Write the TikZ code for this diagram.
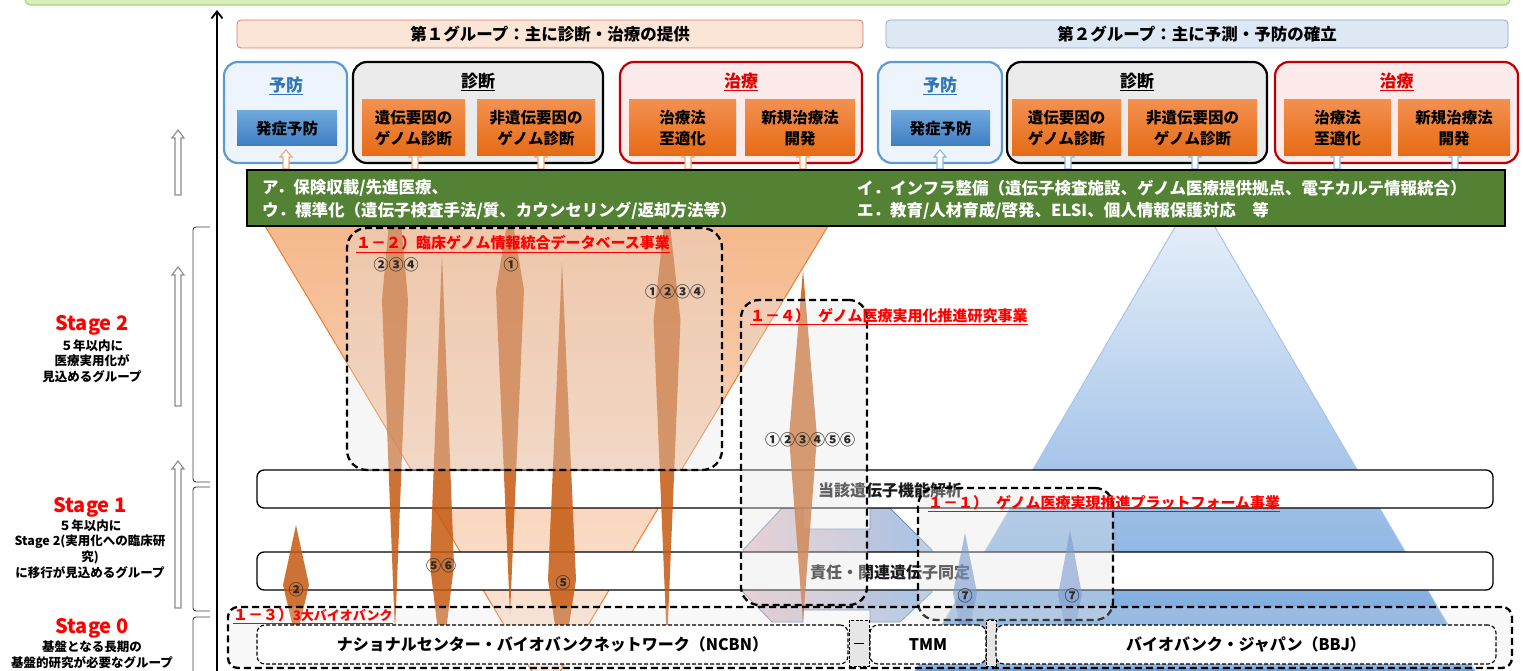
\documentclass[tikz,border=0pt]{standalone}
\usepackage{fontspec}
\setmainfont{Noto Sans CJK JP}
\usetikzlibrary{arrows.meta}
\definecolor{lgreen}{HTML}{D7F0B4}
\definecolor{lgreenb}{HTML}{A9D18E}
\definecolor{dgreen}{HTML}{548235}
\definecolor{g1fill}{HTML}{FBE5D6}
\definecolor{g1draw}{HTML}{D9776E}
\definecolor{g2fill}{HTML}{DEE8F4}
\definecolor{g2draw}{HTML}{8FA9C6}
\definecolor{ybdraw}{HTML}{5B9BD5}
\definecolor{ybfill}{HTML}{EEF4FB}
\definecolor{sdfill}{HTML}{EBEBEB}
\definecolor{crdraw}{HTML}{C00000}
\definecolor{crfill}{HTML}{FDEAEA}
\definecolor{orT}{HTML}{F3904F}
\definecolor{orB}{HTML}{E66A14}
\definecolor{blT}{HTML}{6FA8DC}
\definecolor{blB}{HTML}{3F7DC3}
\definecolor{ttlblue}{HTML}{2E75B6}
\definecolor{ttlred}{HTML}{E00000}
\definecolor{arrOr}{HTML}{F4A46E}
\definecolor{arrBl}{HTML}{8DB4E2}
\definecolor{funT}{HTML}{F5B88C}
\definecolor{funB}{HTML}{FDEBDF}
\definecolor{funD}{HTML}{ED7D31}
\definecolor{triT}{HTML}{EDF3FB}
\definecolor{triB}{HTML}{6A9FDA}
\definecolor{triD}{HTML}{A9C4E6}
\definecolor{spOr}{HTML}{C55A11}
\definecolor{spBl}{HTML}{4472C4}
\definecolor{hexP}{HTML}{E8C6CC}
\definecolor{hexB}{HTML}{A7C5E6}
\definecolor{hexD}{HTML}{6F93B8}
\definecolor{lblred}{HTML}{FF0000}
\definecolor{stred}{HTML}{FF0000}
\definecolor{bartxt}{HTML}{1A1A1A}
\definecolor{numtxt}{HTML}{2A2A2A}
\definecolor{garr}{HTML}{8C8C8C}
\definecolor{brkc}{HTML}{404040}
\definecolor{ovl}{HTML}{E4E4E4}
\definecolor{connfill}{HTML}{E6E6E6}
\newcommand\fsz[2]{\fontsize{#1}{#2}\selectfont}
\newcommand\spindle[6]{\fill[#1] (#2,#3) -- (#2+#5,#4) -- (#2,#6) -- (#2-#5,#4) -- cycle;}
\newcommand\hollowup[6]{\filldraw[#1] (#2-#4,#6) -- (#2-#4,#3+#5) -- (#2-2*#4,#3+#5) -- (#2,#3) -- (#2+2*#4,#3+#5) -- (#2+#4,#3+#5) -- (#2+#4,#6) -- cycle;}
\begin{document}
\begin{tikzpicture}[x=1pt,y=-1pt,
  every node/.style={inner sep=0pt,outer sep=0pt},
  hdr/.style={draw,rounded corners=4,line width=0.8,minimum height=28,font=\fsz{16.5}{20}\bfseries},
  obox/.style={rounded corners=14,line width=2.2,minimum height=101},
  ttl/.style={font=\fsz{17}{20}\bfseries},
  orbox/.style={top color=orT,bottom color=orB,minimum height=56,align=center,font=\fsz{15.5}{21}\bfseries},
  blbox/.style={top color=blT,bottom color=blB,minimum height=35,font=\fsz{15.5}{20}\bfseries},
  gtxt/.style={anchor=west,text=white,font=\fsz{16.5}{20}\bfseries},
  bar/.style={draw,fill=white,rounded corners=7,line width=1.3,minimum width=1236,minimum height=38},
  bartext/.style={text=bartxt,font=\fsz{16}{18}\bfseries},
  dbox/.style={draw,line width=2.3,dash pattern=on 7pt off 4pt,fill=ovl,fill opacity=0.35,rounded corners=20},
  ibox/.style={draw,fill=white,line width=1.1,dash pattern=on 4pt off 2pt,rounded corners=8,minimum height=39,font=\fsz{16}{18}\bfseries},
  conn/.style={draw,fill=connfill,line width=0.8,dash pattern=on 3pt off 1.5pt,minimum height=46},
  rlbl/.style={anchor=west,text=lblred,font=\fsz{15}{18}\bfseries},
  num/.style={text=numtxt,font=\fsz{15}{17}\bfseries},
  spo/.style={fill=spOr,fill opacity=0.85},
  spb/.style={fill=spBl,fill opacity=0.6},
  sarrO/.style={draw=arrOr,fill=white,line width=1.1},
  sarrB/.style={draw=arrBl,fill=white,line width=1.1},
  garrow/.style={draw=garr,fill=white,line width=1.1},
  brk/.style={draw=brkc,line width=0.9,rounded corners=3},
  stg/.style={text=stred,font=\fsz{20}{22}\bfseries},
  stxt/.style={align=center,font=\fsz{12.5}{15.7}\bfseries}
]
\useasboundingbox (0,0) rectangle (1523,671);
% top band
\node[draw=lgreenb,fill=lgreen,line width=1.2,rounded corners=6,minimum width=1485,minimum height=34] (topband) at (767.5,-12) {};
% group headers
\node[hdr,draw=g1draw,fill=g1fill,minimum width=626] (g1) at (550,34) {第１グループ：主に診断・治療の提供};
\node[hdr,draw=g2draw,fill=g2fill,minimum width=622] (g2) at (1197,34) {第２グループ：主に予測・予防の確立};
% outer boxes
\node[obox,draw=ybdraw,fill=ybfill,minimum width=123] (yb1) at (285.5,112.5) {};
\node[obox,draw=black,fill=sdfill,minimum width=250] (sd1) at (478,112.5) {};
\node[obox,draw=crdraw,fill=crfill,minimum width=242] (cr1) at (741,112.5) {};
\node[obox,draw=ybdraw,fill=ybfill,minimum width=124] (yb2) at (940,112.5) {};
\node[obox,draw=black,fill=sdfill,minimum width=260] (sd2) at (1137,112.5) {};
\node[obox,draw=crdraw,fill=crfill,minimum width=243] (cr2) at (1396.5,112.5) {};
% small arrows
\hollowup{sarrO}{286}{150}{3}{7}{169}
\hollowup{sarrO}{415}{150}{3}{7}{169}
\hollowup{sarrO}{541}{150}{3}{7}{169}
\hollowup{sarrO}{688}{150}{3}{7}{169}
\hollowup{sarrO}{803}{150}{3}{7}{169}
\hollowup{sarrB}{940}{150}{3}{7}{169}
\hollowup{sarrB}{1068}{150}{3}{7}{169}
\hollowup{sarrB}{1195}{150}{3}{7}{169}
\hollowup{sarrB}{1337}{150}{3}{7}{169}
\hollowup{sarrB}{1455}{150}{3}{7}{169}
% inner boxes
\node[blbox,minimum width=100] (yb1a) at (287,128.5) {発症予防};
\node[orbox,minimum width=103] (sd1a) at (413.5,128) {遺伝要因の\\ゲノム診断};
\node[orbox,minimum width=118] (sd1b) at (536,128) {非遺伝要因の\\ゲノム診断};
\node[orbox,minimum width=107] (cr1a) at (682.5,128) {治療法\\至適化};
\node[orbox,minimum width=110] (cr1b) at (800,128) {新規治療法\\開発};
\node[blbox,minimum width=99] (yb2a) at (940.5,128.5) {発症予防};
\node[orbox,minimum width=109] (sd2a) at (1066.5,128) {遺伝要因の\\ゲノム診断};
\node[orbox,minimum width=129] (sd2b) at (1192.5,128) {非遺伝要因の\\ゲノム診断};
\node[orbox,minimum width=107] (cr2a) at (1337.5,128) {治療法\\至適化};
\node[orbox,minimum width=112] (cr2b) at (1454,128) {新規治療法\\開発};
% titles
\node[ttl,text=ttlblue] (yb1t) at (286,86) {\underline{予防}};
\node[ttl] (sd1t) at (478,82) {\underline{診断}};
\node[ttl,text=ttlred] (cr1t) at (741,82) {\underline{治療}};
\node[ttl,text=ttlblue] (yb2t) at (940,86) {\underline{予防}};
\node[ttl] (sd2t) at (1137,82) {\underline{診断}};
\node[ttl,text=ttlred] (cr2t) at (1396.5,82) {\underline{治療}};
% body
\begin{scope}
\clip (0,226) rectangle (1523,671);
\path[draw=funD,line width=1,top color=funT,bottom color=funB] (265,226) -- (828,226) -- (546,695) -- cycle;
\path[draw=triD,line width=1,top color=triT,bottom color=triB] (1195,193) -- (1492,700) -- (898,700) -- cycle;
\path[draw=hexD,line width=0.8,left color=hexP,right color=hexB] (782,508) -- (803,508) -- (803,529) -- (870,529) -- (870,508) -- (890,508) -- (932,550) -- (932,592) -- (900,622) -- (870,622) -- (870,610) -- (803,610) -- (803,622) -- (772,622) -- (743,592) -- (743,550) -- cycle;
% bars
\node[bar] (bar1) at (875,489) {};
\node[bar] (bar2) at (875,571) {};
\node[bartext] (bar1t) at (890,490) {当該遺伝子機能解析};
\node[bartext] (bar2t) at (890,572) {責任・関連遺伝子同定};
% spindles
\spindle{spo}{395}{156}{300}{13}{634}
\spindle{spo}{442}{253}{565}{12}{665}
\spindle{spo}{510}{206}{290}{14}{615}
\spindle{spo}{562}{262}{580}{14}{670}
\spindle{spo}{667}{198}{320}{13.5}{645}
\spindle{spo}{803}{270}{437}{14}{622}
\spindle{spo}{296}{525}{585}{13}{640}
\spindle{spb}{965}{533}{593}{12}{650}
\spindle{spb}{1070}{530}{595}{12}{650}
% dashed overlays
\node[dbox,minimum width=375,minimum height=242] (d12) at (534.5,349) {};
\node[dbox,rounded corners=18,minimum width=126,minimum height=305] (d14) at (804,452.5) {};
\node[dbox,rounded corners=18,minimum width=195,minimum height=132] (d11) at (1015.5,554) {};
\node[dbox,rounded corners=10,fill opacity=0.25,minimum width=1284,minimum height=61] (d13) at (870,637.5) {};
% biobanks
\node[conn,minimum width=20] (cn1) at (859,643) {};
\node[conn,minimum width=10] (cn2) at (991,643) {};
\draw[line width=0.8] ([xshift=-5pt]cn1.center) -- ([xshift=5pt]cn1.center);
\node[ibox,minimum width=591] (ncbn) at (552.5,644.5) {ナショナルセンター・バイオバンクネットワーク（NCBN）};
\node[ibox,minimum width=116] (tmm) at (928,644.5) {TMM};
\node[ibox,minimum width=500] (bbj) at (1246,644.5) {バイオバンク・ジャパン（BBJ）};
\end{scope}
% green box
\node[draw=black,fill=dgreen,line width=1.5,minimum width=1258,minimum height=56] (gbox) at (876,198) {};
\node[gtxt] (ga) at (262,188) {ア．保険収載/先進医療、};
\node[gtxt] (gu) at (262,211) {ウ．標準化（遺伝子検査手法/質、カウンセリング/返却方法等）};
\node[gtxt] (gi) at (857,188) {イ．インフラ整備（遺伝子検査施設、ゲノム医療提供拠点、電子カルテ情報統合）};
\node[gtxt] (ge) at (857,211) {エ．教育/人材育成/啓発、ELSI、個人情報保護対応　等};
% red labels
\node[rlbl] (l12) at (356,244) {\underline{１－２）臨床ゲノム情報統合データベース事業}};
\node[rlbl] (l14) at (750,317) {\underline{１－４）\hspace{8pt}ゲノム医療実用化推進研究事業}};
\node[rlbl] (l11) at (928,504) {\underline{１－１）\hspace{8pt}ゲノム医療実現推進プラットフォーム事業}};
\node[rlbl] (l13) at (233,616) {\underline{１－３）{\fsz{13}{16}3大バイオバンク}}};
% circled numbers
\node[num] (n1) at (396,265) {②③④};
\node[num] (n2) at (511,265) {①};
\node[num] (n3) at (675,292) {①②③④};
\node[num] (n4) at (810,440) {①②③④⑤⑥};
\node[num] (n5) at (296,590) {②};
\node[num] (n6) at (441,566) {⑤⑥};
\node[num] (n7) at (563,583) {⑤};
\node[num] (n8) at (965,596) {⑦};
\node[num] (n9) at (1072,596) {⑦};
% left side
\hollowup{garrow}{178}{130}{3}{8}{195}
\hollowup{garrow}{178}{267}{3}{8}{406}
\hollowup{garrow}{178}{461}{3}{8}{608}
\draw[brk] (210,227) -- (193,227) -- (193,482) -- (210,482);
\draw[brk] (210,487) -- (193,487) -- (193,611) -- (210,611);
\draw[brk] (210,617) -- (193,617) -- (193,690);
\node[stg] (s2) at (92,325) {Stage 2};
\node[stxt] (s2t) at (92,361) {５年以内に\\医療実用化が\\見込めるグループ};
\node[stg] (s1) at (90,507) {Stage 1};
\node[stxt] (s1t) at (90,549) {５年以内に\\Stage 2(実用化への臨床研\\究)\\に移行が見込めるグループ};
\node[stg] (s0) at (92,628) {Stage 0};
\node[stxt] (s0t) at (92,655) {基盤となる長期の\\基盤的研究が必要なグループ};
% axis
\coordinate (axb) at (217,680);
\coordinate (axt) at (217,10);
\draw[line width=1.8,-{Straight Barb[length=7pt,width=11pt]}] (axb) -- (axt);
\end{tikzpicture}
\end{document}
